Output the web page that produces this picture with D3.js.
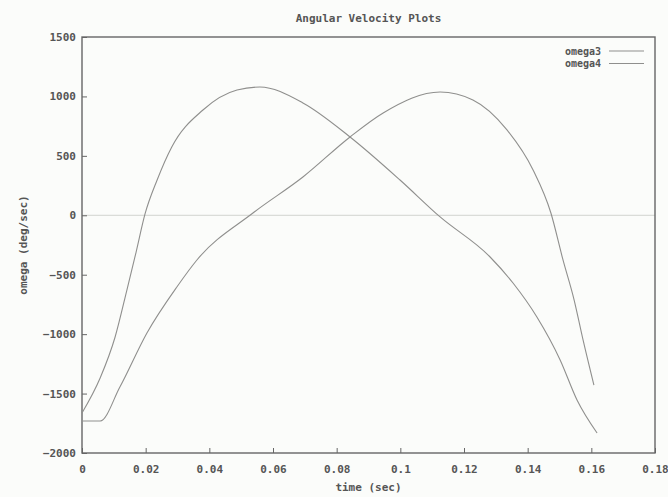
<!DOCTYPE html>
<html>
<head>
<meta charset="utf-8">
<script src="https://cdn.jsdelivr.net/npm/d3@7"></script>
<style>
  body { margin: 0; background: #fbfcfa; }
  text { font-family: "DejaVu Sans Mono", monospace; font-size: 11px; font-weight: bold; fill: #555; }
</style>
</head>
<body>
<div id="chart"></div>
<script>
// data
const omega3_time = [0, 0.0057, 0.0104, 0.0141, 0.017, 0.0198, 0.0236, 0.0282, 0.038, 0.0487, 0.0559, 0.0694, 0.0842, 0.0999, 0.1125, 0.1282, 0.1354, 0.1429, 0.1502, 0.1555, 0.1618];
const omega3_vals = [-1663, -1369, -1024, -629, -309, 11, 297, 575, 886, 1054, 1079, 945, 659, 297, -14, -351, -570, -856, -1217, -1554, -1832];

const omega4_time = [0, 0.0057, 0.0119, 0.0204, 0.0298, 0.0361, 0.0537, 0.0694, 0.0842, 0.0946, 0.1125, 0.1228, 0.1335, 0.1417, 0.1473, 0.1511, 0.1546, 0.1574, 0.1608];
const omega4_vals = [-1731, -1731, -1445, -990, -603, -376, 19, 322, 659, 861, 1037, 970, 718, 381, 19, -376, -713, -1049, -1428];

const series_names = ["omega3", "omega4"];
const x_ticks = [0, 0.02, 0.04, 0.06, 0.08, 0.1, 0.12, 0.14, 0.16, 0.18];
const y_ticks = [-2000, -1500, -1000, -500, 0, 500, 1000, 1500];

const W = 668, H = 497;
const margin = { top: 37, right: 13, bottom: 44, left: 82 };
const width = W - margin.left - margin.right,
      height = H - margin.top - margin.bottom;

const svg = d3.select("#chart").append("svg")
    .attr("width", W)
    .attr("height", H);

const plot = svg.append("g")
    .attr("transform", `translate(${margin.left},${margin.top})`);

const x = d3.scaleLinear().domain([0, 0.18]).range([0, width]);
const y = d3.scaleLinear().domain([-2000, 1500]).range([height, 0]);

// zero axis
plot.append("line")
    .attr("x1", 0).attr("x2", width)
    .attr("y1", y(0)).attr("y2", y(0))
    .attr("stroke", "#d2d3cf")
    .attr("stroke-width", 1);

// axes with gnuplot style inward ticks
const xAxis = plot.append("g")
    .attr("transform", `translate(0,${height})`)
    .call(d3.axisBottom(x).tickValues(x_ticks).tickSize(-5).tickPadding(12)
        .tickFormat(d => String(+d.toFixed(2))));
const yAxis = plot.append("g")
    .call(d3.axisLeft(y).tickValues(y_ticks).tickSize(-5).tickPadding(6)
        .tickFormat(d3.format("d")));

[xAxis, yAxis].forEach(a => {
    a.select(".domain").remove();
    a.selectAll("line").attr("stroke", "#666");
    a.selectAll("text").attr("fill", "#555").style("font-size", "11px");
});

// border
plot.append("rect")
    .attr("width", width).attr("height", height)
    .attr("fill", "none")
    .attr("stroke", "#666")
    .attr("stroke-width", 1.4);

// curves
const line = d3.line()
    .x(d => x(d[0]))
    .y(d => y(d[1]))
    .curve(d3.curveMonotoneX);

const series = [
    d3.zip(omega3_time, omega3_vals),
    d3.zip(omega4_time, omega4_vals)
];

plot.selectAll(".curve")
    .data(series)
    .enter().append("path")
    .attr("class", "curve")
    .attr("d", line)
    .attr("fill", "none")
    .attr("stroke", "#8f8f8d")
    .attr("stroke-width", 1.1);

// legend
const legend = plot.append("g")
    .attr("transform", `translate(${width - 54}, 14)`);
series_names.forEach((name, i) => {
    legend.append("text")
        .attr("x", 0).attr("y", i * 12.5)
        .attr("dy", "0.35em")
        .style("text-anchor", "end")
        .style("font-size", "10px")
        .text(name);
    legend.append("line")
        .attr("x1", 8).attr("x2", 43)
        .attr("y1", i * 12.5).attr("y2", i * 12.5)
        .attr("stroke", "#8f8f8d");
});

// titles
svg.append("text")
    .attr("x", margin.left + width / 2)
    .attr("y", 22)
    .style("text-anchor", "middle")
    .text("Angular Velocity Plots");

svg.append("text")
    .attr("x", margin.left + width / 2)
    .attr("y", 491)
    .style("text-anchor", "middle")
    .text("time (sec)");

svg.append("text")
    .attr("transform", `translate(27,${margin.top + height / 2}) rotate(-90)`)
    .style("text-anchor", "middle")
    .text("omega (deg/sec)");
</script>
</body>
</html>
